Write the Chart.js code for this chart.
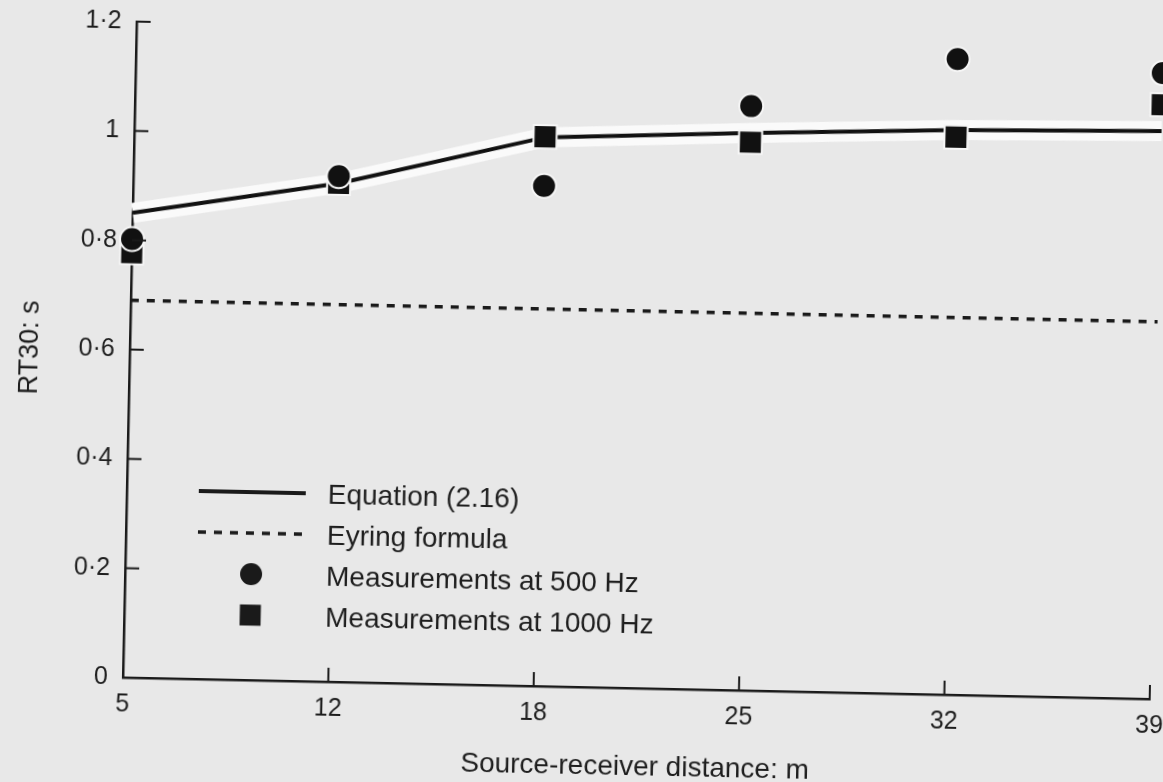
<!DOCTYPE html>
<html>
<head>
<meta charset="utf-8">
<script src="https://cdn.jsdelivr.net/npm/chart.js@4"></script>
<style>
  html, body { margin: 0; padding: 0; background: #e8e8e8; overflow: hidden; }
  body { width: 1163px; height: 782px; }
  /* the printed figure sits slightly skewed on the page */
  #rt { display: block; transform: rotate(1.2deg); transform-origin: 581.5px 391px; }
</style>
</head>
<body>
<canvas id="rt" width="1200" height="800"></canvas>
<script>
const distances = ['5', '12', '18', '25', '32', '39'];
const equation = [0.85, 0.912, 1.004, 1.02, 1.033, 1.039];
const eyring = [0.69, 0.69, 0.69, 0.69, 0.69, 0.69];
const meas500 = [0.802, 0.925, 0.915, 1.069, 1.163, 1.145];
const meas1000 = [0.777, 0.912, 1.005, 1.003, 1.02, 1.087];
const yTicks = [0, 0.2, 0.4, 0.6, 0.8, 1, 1.2];

const FONT = 'Liberation Sans, Arial, sans-serif';
const INK = '#1a1a1a';

// short tick marks pointing into the plot
const inwardTicks = {
  id: 'inwardTicks',
  afterDraw(chart) {
    const { ctx, chartArea: a, scales: { x, y } } = chart;
    ctx.save();
    ctx.strokeStyle = INK;
    ctx.lineWidth = 2;
    y.ticks.forEach(t => {
      if (t.value === 0) return;
      const py = y.getPixelForValue(t.value);
      ctx.beginPath(); ctx.moveTo(a.left, py); ctx.lineTo(a.left + 14, py); ctx.stroke();
    });
    x.ticks.forEach((t, i) => {
      if (i === 0) return;
      const px = x.getPixelForTick(i);
      ctx.beginPath(); ctx.moveTo(px, a.bottom); ctx.lineTo(px, a.bottom - 14); ctx.stroke();
    });
    ctx.restore();
  }
};

// key box in the lower left of the plot
const keyBox = {
  id: 'keyBox',
  afterDraw(chart) {
    const ctx = chart.ctx;
    const rows = chart.data.datasets.filter(d => d.key);
    ctx.save();
    rows.forEach((d, i) => {
      const cy = 499 + i * 41;
      ctx.fillStyle = INK;
      ctx.strokeStyle = INK;
      if (d.showLine !== false) {
        ctx.lineWidth = d.borderWidth;
        ctx.setLineDash(d.borderDash || []);
        ctx.beginPath(); ctx.moveTo(201, cy); ctx.lineTo(308, cy); ctx.stroke();
        ctx.setLineDash([]);
      } else if (d.pointStyle === 'rect') {
        ctx.fillRect(255 - 10.5, cy - 10.5, 21, 21);
      } else {
        ctx.beginPath(); ctx.arc(255, cy, 11, 0, Math.PI * 2); ctx.fill();
      }
      ctx.font = '28px ' + FONT;
      ctx.textBaseline = 'alphabetic';
      ctx.fillStyle = '#1e1e1e';
      ctx.fillText(d.label, 330, cy + 10);
    });
    ctx.restore();
  }
};

new Chart(document.getElementById('rt'), {
  type: 'line',
  data: {
    labels: distances,
    datasets: [
      {
        label: 'Equation (2.16)', key: true, data: equation,
        borderColor: '#111', borderWidth: 4, pointRadius: 0, tension: 0, clip: false, order: 2
      },
      {
        label: 'Eyring formula', key: true, data: eyring,
        borderColor: INK, borderWidth: 3.5, borderDash: [8, 8], pointRadius: 0, clip: false, order: 2
      },
      {
        label: 'Measurements at 500 Hz', key: true, data: meas500, showLine: false,
        pointStyle: 'circle', pointRadius: 12, pointBackgroundColor: '#111',
        pointBorderColor: '#f6f6f6', pointBorderWidth: 2, clip: false, order: 1
      },
      {
        label: 'Measurements at 1000 Hz', key: true, data: meas1000, showLine: false,
        pointStyle: 'rect', pointRadius: 16.3, pointBackgroundColor: '#111',
        pointBorderColor: '#f6f6f6', pointBorderWidth: 2, clip: false, order: 1
      },
      {
        // pale band printed around the equation curve
        label: 'band', data: equation, borderColor: '#fafafa', borderWidth: 20,
        pointRadius: 0, tension: 0, clip: false, order: 5
      }
    ]
  },
  options: {
    responsive: false,
    animation: false,
    events: [],
    layout: { padding: { top: 31, right: 44, bottom: 0, left: 0 } },
    plugins: { legend: { display: false }, tooltip: { enabled: false } },
    scales: {
      x: {
        offset: false,
        grid: { display: false },
        border: { display: true, color: INK, width: 2.5 },
        ticks: { color: '#1e1e1e', font: { family: FONT, size: 25 }, padding: 4, maxRotation: 0, autoSkip: false },
        title: {
          display: true, text: 'Source-receiver distance: m', color: '#1e1e1e',
          font: { family: FONT, size: 28 }, padding: { top: 0, bottom: 17 }
        },
        afterFit: s => { s.height = 113; }
      },
      y: {
        min: 0, max: 1.2, z: 1,
        afterBuildTicks: s => { s.ticks = yTicks.map(v => ({ value: v })); },
        grid: { display: false },
        border: { display: true, color: INK, width: 2.5 },
        ticks: { color: '#1e1e1e', font: { family: FONT, size: 25 }, padding: 7, callback: v => String(v).replace('.', '·') },
        title: {
          display: true, text: 'RT30: s', color: '#1e1e1e',
          font: { family: FONT, size: 27 }, padding: { top: 13, bottom: 0 }
        },
        afterFit: s => { s.width = 129; }
      }
    }
  },
  plugins: [inwardTicks, keyBox]
});
</script>
</body>
</html>
